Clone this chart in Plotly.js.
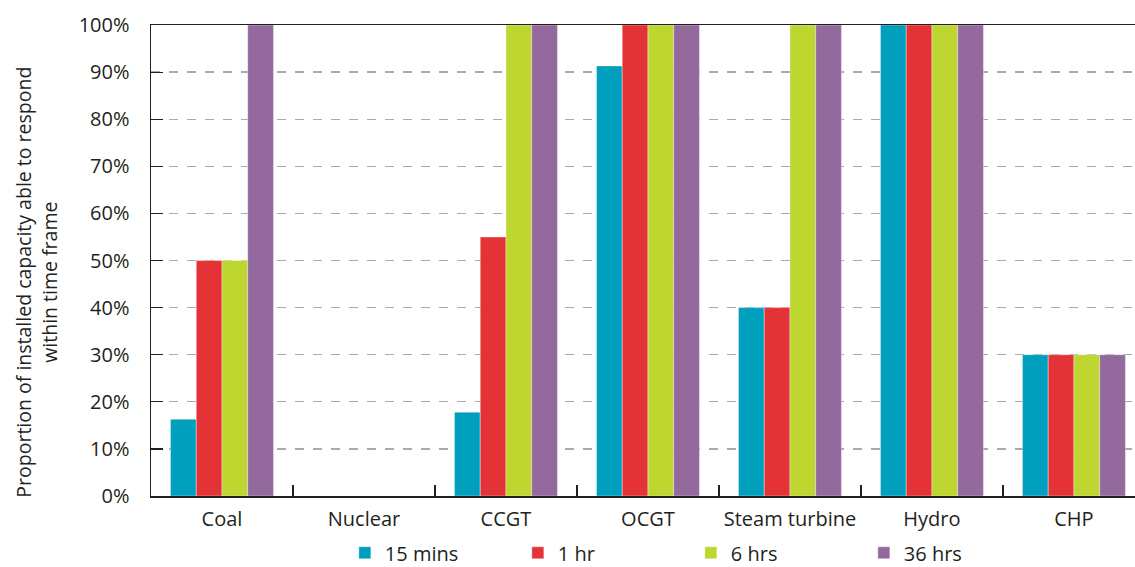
<!DOCTYPE html>
<html><head><meta charset="utf-8">
<script src="https://cdn.plot.ly/plotly-3.0.1.min.js"></script>
<style>html,body{margin:0;padding:0;background:#fff;}#chart{width:1135px;height:567px;}</style>
</head><body><div id="chart"></div>
<script>
const categories = ["Coal", "Nuclear", "CCGT", "OCGT", "Steam turbine", "Hydro", "CHP"];
const seriesNames = ["15 mins", "1 hr", "6 hrs", "36 hrs"];
const mins15 = [16.3, 0, 17.8, 91.3, 40, 100, 30];
const hr1 = [50, 0, 55, 100, 40, 100, 30];
const hrs6 = [50, 0, 100, 100, 100, 100, 30];
const hrs36 = [100, 0, 100, 100, 100, 100, 30];
const colors = ["#009FBD", "#E43337", "#BED630", "#93699E"];
const yTicks = [0,10,20,30,40,50,60,70,80,90,100];
const yTitle = "Proportion of installed capacity able to respond<br>within time frame";

const FONT = "Open Sans, sans-serif";
const data = [mins15, hr1, hrs6, hrs36].map((vals, i) => ({
  type: "bar", x: categories, y: vals, name: seriesNames[i],
  marker: {color: colors[i], line: {color: "rgba(255,255,255,0.6)", width: 0.6}},
  hoverinfo: "x+y+name"
}));

const layout = {
  width: 1135, height: 567,
  margin: {l: 151, r: 0, t: 25, b: 71, autoexpand: false},
  paper_bgcolor: "#fff", plot_bgcolor: "#fff",
  font: {family: FONT, color: "#231f20", size: 20},
  barmode: "group", bargap: 0.275, bargroupgap: 0,
  showlegend: true,
  legend: {orientation: "h", x: 0.197, xanchor: "left", y: -0.162, yanchor: "bottom",
           font: {family: FONT, size: 20, color: "#231f20"}, entrywidth: 128, itemwidth: 30},
  xaxis: {
    range: [-0.5, 6.43], showgrid: false, zeroline: false, automargin: false,
    showline: true, linecolor: "#231f20", linewidth: 1.5, mirror: true,
    ticks: "inside", tickson: "boundaries", ticklen: 11, tickcolor: "#231f20", tickwidth: 1.2,
    tickfont: {family: FONT, size: 20, color: "#231f20"}, ticklabelstandoff: 4
  },
  yaxis: {
    range: [0, 100], tickvals: yTicks, ticktext: yTicks.map(v => v + "%"),
    showgrid: true, gridcolor: "#aaaaaa", griddash: "dash", gridwidth: 1.3,
    zeroline: false, showline: true, linecolor: "#231f20", linewidth: 1.5, automargin: false,
    ticks: "inside", ticklen: 12, tickcolor: "#231f20", tickwidth: 1.2,
    tickfont: {family: FONT, size: 20, color: "#231f20"}, ticklabelstandoff: 16
  },
  annotations: [{
    text: yTitle, xref: "paper", yref: "paper", x: -0.1169, y: 0.455,
    xanchor: "center", yanchor: "middle", textangle: -90, showarrow: false, align: "center",
    font: {family: FONT, size: 19.5, color: "#231f20"}
  }]
};
Plotly.newPlot("chart", data, layout, {displayModeBar: false, staticPlot: true});
</script></body></html>
